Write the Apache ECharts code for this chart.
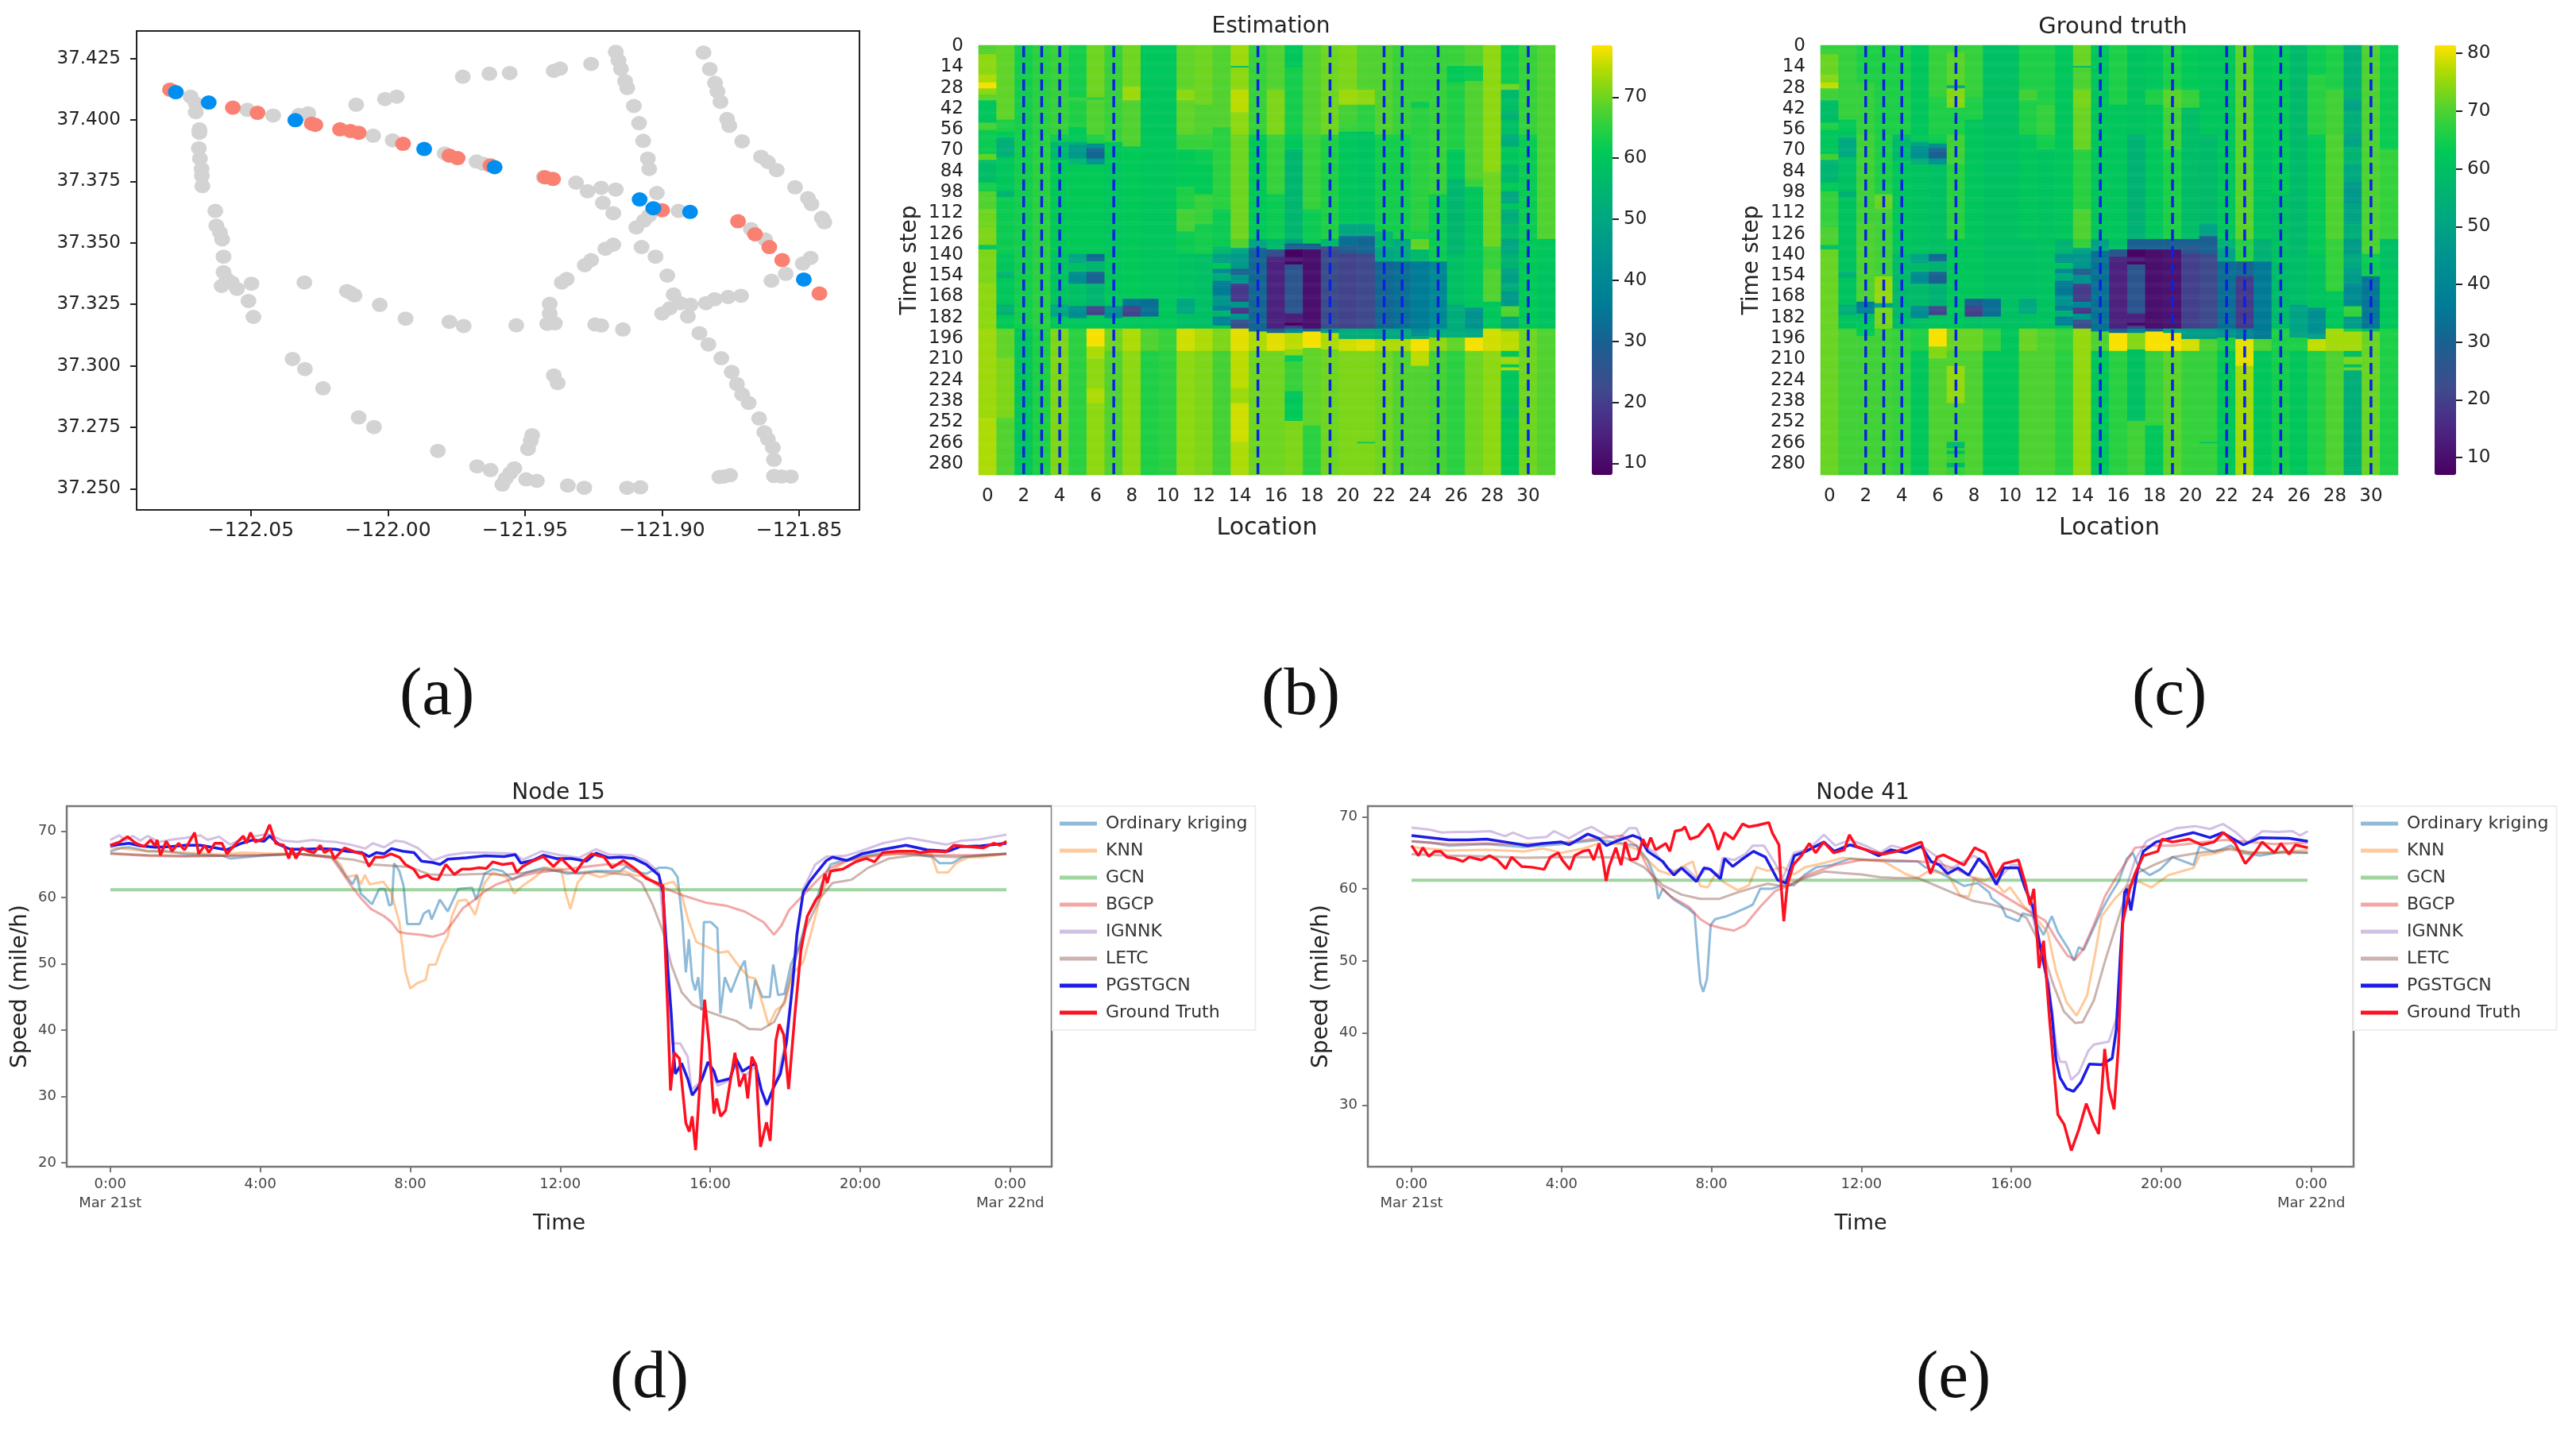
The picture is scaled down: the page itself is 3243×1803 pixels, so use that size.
<!DOCTYPE html>
<html>
<head>
<meta charset="utf-8">
<title>Traffic speed kriging</title>
<script src="https://cdn.jsdelivr.net/npm/echarts@6/dist/echarts.min.js"></script>
</head>
<body style="margin:0;padding:0;background:#fff;">
<div id="main" style="width:3243px;height:1803px;"></div>
<script>
// (a) sensor map, [lon, lat]
var grayPoints = [[-122.0795,37.4123],[-122.072,37.4095],[-122.0701,37.4067],[-122.0701,37.4032],[-122.0688,37.3962],[-122.0688,37.3948],[-122.069,37.3885],[-122.0686,37.3843],[-122.068,37.3801],[-122.0679,37.3773],[-122.0677,37.3731],[-122.063,37.363],[-122.0626,37.357],[-122.0613,37.3542],[-122.0605,37.3514],[-122.06,37.3444],[-122.06,37.3381],[-122.0588,37.3353],[-122.0607,37.3325],[-122.057,37.3339],[-122.0551,37.3313],[-122.0498,37.3334],[-122.0509,37.3264],[-122.0491,37.3199],[-122.0305,37.3339],[-122.015,37.3304],[-122.0137,37.3297],[-122.0122,37.3287],[-122.003,37.3248],[-121.9936,37.3192],[-121.9776,37.3179],[-121.9724,37.3162],[-121.9532,37.3165],[-121.9419,37.3171],[-121.9391,37.3173],[-121.941,37.3252],[-121.941,37.3213],[-121.9244,37.3168],[-121.9222,37.3164],[-121.9143,37.3148],[-122.0348,37.3028],[-122.0303,37.2987],[-122.0237,37.2909],[-122.0107,37.279],[-122.0051,37.2751],[-121.9818,37.2654],[-121.9675,37.2591],[-121.9626,37.2576],[-121.9583,37.2517],[-121.9571,37.2541],[-121.9554,37.2564],[-121.9539,37.2583],[-121.9496,37.2538],[-121.9457,37.2532],[-121.9344,37.2513],[-121.9284,37.2504],[-121.9128,37.2504],[-121.9079,37.2506],[-121.9489,37.2662],[-121.9479,37.2695],[-121.9474,37.2718],[-121.9395,37.2961],[-121.9381,37.293],[-121.8791,37.2548],[-121.8774,37.255],[-121.8752,37.2555],[-121.8592,37.2552],[-121.8564,37.255],[-121.853,37.255],[-121.8592,37.2618],[-121.8596,37.2667],[-121.8614,37.2702],[-121.8627,37.273],[-121.8646,37.2786],[-121.8684,37.2849],[-121.8708,37.2884],[-121.8727,37.2926],[-121.8746,37.2975],[-121.8784,37.3031],[-121.8831,37.3087],[-121.8864,37.3133],[-121.8906,37.3201],[-121.9,37.3213],[-121.8972,37.3234],[-121.8934,37.3255],[-121.8896,37.3248],[-121.884,37.3255],[-121.8808,37.3271],[-121.8759,37.328],[-121.8712,37.3285],[-121.8958,37.329],[-121.8981,37.3367],[-121.9024,37.3444],[-121.9075,37.3483],[-121.9178,37.3493],[-121.9207,37.3476],[-121.9259,37.343],[-121.9282,37.3409],[-121.9348,37.3353],[-121.9366,37.3339],[-121.9094,37.3563],[-121.9066,37.3591],[-121.9047,37.3612],[-121.9178,37.3621],[-121.9216,37.3663],[-121.9169,37.3717],[-121.9222,37.3724],[-121.9272,37.371],[-121.9314,37.3745],[-121.9019,37.3703],[-121.894,37.363],[-121.9047,37.3801],[-121.9052,37.3843],[-121.9069,37.3915],[-121.9084,37.3987],[-121.9103,37.4057],[-121.9127,37.413],[-121.9135,37.4158],[-121.915,37.4207],[-121.9159,37.4242],[-121.9169,37.4277],[-121.8849,37.4274],[-121.8826,37.4207],[-121.8807,37.4151],[-121.8798,37.4116],[-121.8787,37.4074],[-121.8763,37.4004],[-121.8755,37.3976],[-121.8708,37.3913],[-121.8639,37.385],[-121.8614,37.3829],[-121.8582,37.3796],[-121.8515,37.3726],[-121.8468,37.3682],[-121.8455,37.3658],[-121.8417,37.3602],[-121.8408,37.3584],[-121.8458,37.3439],[-121.8487,37.3416],[-121.8549,37.3374],[-121.8601,37.3346],[-121.8676,37.3556],[-121.8624,37.3514],[-121.9727,37.4176],[-121.963,37.4188],[-121.9556,37.4191],[-121.9395,37.42],[-121.9372,37.4209],[-121.9259,37.4228],[-122.0116,37.4062],[-122.0011,37.4085],[-121.9968,37.4095],[-122.0513,37.4041],[-122.0419,37.4018],[-122.0325,37.402],[-122.0291,37.4027],[-122.0054,37.3936],[-121.9983,37.3917],[-121.9793,37.3864],[-121.9677,37.3831],[-121.9652,37.3822],[-121.9432,37.3768]];
var redPoints = [[-122.0795,37.4123],[-122.0566,37.405],[-122.0476,37.4029],[-122.0278,37.3985],[-122.0265,37.398],[-122.0175,37.3962],[-122.0137,37.3955],[-122.0107,37.3948],[-121.9945,37.3903],[-121.9776,37.3855],[-121.9746,37.3845],[-121.9626,37.3815],[-121.9427,37.3767],[-121.9398,37.376],[-121.9,37.3633],[-121.8723,37.3588],[-121.8661,37.3535],[-121.8609,37.3483],[-121.8562,37.343],[-121.8426,37.3294]];
var bluePoints = [[-122.0774,37.4113],[-122.0654,37.4071],[-122.0338,37.3999],[-121.9868,37.3882],[-121.9611,37.3808],[-121.9082,37.3677],[-121.9032,37.3641],[-121.8898,37.3626],[-121.8483,37.3351]];
var mapLonTicks = [-122.05,-122,-121.95,-121.9,-121.85];
var mapLatTicks = [37.25,37.275,37.3,37.325,37.35,37.375,37.4,37.425];

// (b)(c) heatmaps: one list per location, each entry is [end row, speed]
var dashedLocations = [2,3,4,7,15,19,22,23,25,30];
var estimationColumns = [
 [[6,68],[20,72],[25,74],[29,78],[33,72],[37,69],[52,60],[57,67],[73,62],[77,69],[92,57],[98,63],[110,68],[122,70],[134,71],[137,60],[160,71],[190,72],[250,73],[288,74]],
 [[50,69],[58,64],[62,61],[75,53],[98,60],[102,55],[140,62],[152,60],[156,55],[174,60],[181,54],[190,61],[210,69],[250,71],[288,68]],
 [[190,63],[288,60]],
 [[190,65],[288,64]],
 [[60,66],[65,62],[77,56],[140,61],[174,59],[182,50],[190,60],[288,71]],
 [[35,63],[37,66],[55,64],[65,61],[67,52],[76,46],[80,55],[140,61],[146,50],[152,58],[160,42],[175,58],[183,42],[190,60],[288,65]],
 [[35,70],[37,65],[60,68],[66,64],[69,44],[76,31],[80,44],[140,61],[145,32],[152,55],[160,30],[175,55],[181,21],[190,60],[202,78],[210,74],[230,72],[240,74],[288,72]],
 [[65,66],[78,60],[175,60],[183,42],[190,60],[205,70],[288,68]],
 [[28,70],[37,73],[68,68],[170,61],[175,35],[182,21],[190,60],[205,74],[288,72]],
 [[170,60],[182,33],[190,60],[205,68],[288,64]],
 [[190,60],[205,66],[288,65]],
 [[30,69],[37,72],[60,69],[70,66],[95,61],[110,64],[125,67],[140,62],[170,59],[180,50],[190,58],[205,76],[288,72]],
 [[40,70],[60,68],[70,66],[80,62],[100,61],[120,66],[140,63],[190,58],[205,74],[288,71]],
 [[55,68],[110,65],[135,62],[140,56],[146,48],[150,60],[153,40],[158,52],[168,36],[175,45],[178,36],[182,55],[188,38],[190,60],[205,71],[288,67]],
 [[14,73],[15,58],[30,72],[45,75],[60,72],[130,70],[136,68],[140,50],[150,46],[154,30],[160,45],[172,19],[176,45],[180,18],[184,45],[190,24],[205,77],[230,75],[240,73],[266,76],[288,74]],
 [[60,66],[130,61],[136,50],[190,31],[192,33],[205,74],[288,70]],
 [[30,68],[60,71],[100,66],[130,62],[137,56],[142,24],[190,15],[193,30],[205,77],[288,70]],
 [[15,60],[60,63],[70,60],[130,55],[133,48],[137,30],[142,8.5],[145,13],[147,8.5],[180,26],[186,14],[188,8.5],[190,20],[193,40],[204,75],[208,72],[212,61],[232,66],[240,60],[252,61],[288,71]],
 [[60,68],[110,66],[133,62],[137,30],[190,11],[192,30],[203,78],[255,69],[288,65]],
 [[60,70],[130,64],[135,56],[190,23],[193,47],[204,74],[288,70]],
 [[30,71],[40,73],[52,67],[58,66],[120,60],[128,50],[135,33],[140,28],[190,21],[197,52],[205,76],[288,71]],
 [[30,68],[40,72],[58,65],[120,59],[128,50],[140,31],[190,22],[197,52],[205,77],[266,71],[267,61],[288,71]],
 [[60,68],[125,63],[136,55],[145,50],[190,31],[197,50],[205,74],[288,70]],
 [[60,66],[130,63],[145,52],[190,33],[197,50],[205,74],[288,68]],
 [[38,66],[42,62],[125,65],[130,63],[137,69],[145,56],[190,36],[195,42],[197,50],[205,78],[215,75],[288,68]],
 [[100,66],[145,62],[190,40],[196,52],[205,72],[288,67]],
 [[14,66],[25,61],[70,64],[90,60],[140,55],[174,58],[196,52],[205,69],[288,65]],
 [[14,68],[24,62],[90,68],[95,66],[176,60],[190,44],[196,50],[205,78],[288,70]],
 [[30,72],[85,72],[135,70],[150,66],[172,68],[190,60],[205,76],[288,72]],
 [[26,62],[30,70],[36,56],[44,58],[50,54],[60,58],[68,52],[80,60],[92,56],[98,61],[106,50],[110,60],[120,52],[130,56],[140,50],[150,54],[160,48],[165,52],[175,46],[182,68],[190,50],[192,71],[205,75],[209,60],[214,73],[216,60],[218,74],[240,60],[250,58],[288,60]],
 [[60,66],[130,62],[190,61],[288,70]],
 [[70,68],[130,68],[150,60],[190,59],[288,68]]
];
var truthColumns = [
 [[6,68],[20,72],[25,74],[29,78],[37,69],[52,59],[57,66],[73,62],[77,69],[92,56],[98,63],[122,68],[134,70],[137,60],[190,72],[288,72]],
 [[50,68],[58,63],[62,61],[75,52],[98,60],[102,55],[152,61],[156,55],[174,61],[181,54],[190,61],[288,69]],
 [[25,66],[60,68],[120,69],[172,70],[180,38],[186,60],[195,63],[288,69]],
 [[100,66],[110,72],[155,69],[173,75],[176,50],[190,73],[288,69]],
 [[60,66],[78,58],[140,62],[190,58],[288,68]],
 [[65,62],[68,50],[76,44],[80,54],[140,61],[146,50],[152,58],[160,42],[175,58],[183,42],[190,60],[205,66],[288,62]],
 [[35,68],[60,66],[66,64],[69,44],[76,30],[80,44],[140,60],[145,32],[152,55],[160,30],[175,55],[181,21],[190,61],[202,81],[210,74],[288,70]],
 [[5,68],[27,71],[29,52],[42,74],[60,66],[80,69],[130,67],[190,62],[205,72],[215,70],[240,75],[266,70],[270,58],[272,68],[274,58],[280,68],[283,58],[288,68]],
 [[35,68],[50,66],[170,62],[175,30],[182,20],[190,60],[205,72],[288,70]],
 [[170,60],[182,33],[190,60],[205,68],[288,62]],
 [[190,60],[288,62]],
 [[30,66],[37,69],[60,66],[130,62],[170,60],[180,52],[190,60],[205,72],[288,70]],
 [[40,66],[60,68],[70,65],[190,61],[205,70],[288,70]],
 [[130,62],[140,56],[146,46],[150,60],[153,40],[158,52],[168,36],[175,45],[178,36],[182,55],[188,38],[190,60],[205,68],[288,67]],
 [[14,72],[15,58],[30,70],[42,73],[70,72],[110,67],[130,70],[136,68],[140,50],[150,46],[154,28],[160,45],[172,19],[176,40],[180,18],[184,45],[190,23],[288,75]],
 [[130,62],[138,50],[190,34],[192,36],[205,70],[288,62]],
 [[40,66],[130,62],[137,60],[142,26],[190,14],[193,30],[205,81],[288,67]],
 [[60,61],[130,55],[137,30],[142,8],[145,13],[147,8],[180,26],[186,14],[188,8],[190,20],[193,40],[204,74],[252,60],[288,69]],
 [[30,62],[40,66],[130,62],[137,30],[190,10],[192,30],[205,81],[255,68],[288,62]],
 [[30,66],[42,71],[70,69],[130,66],[137,30],[190,11],[193,50],[205,81],[288,71]],
 [[30,63],[42,68],[130,59],[135,30],[140,26],[190,20],[197,48],[205,79],[288,68]],
 [[60,62],[120,58],[128,50],[140,30],[190,22],[197,48],[205,70],[266,68],[267,60],[288,68]],
 [[130,62],[136,56],[145,50],[190,33],[196,45],[205,66],[288,62]],
 [[130,71],[145,67],[155,31],[190,19],[197,40],[215,80],[288,76]],
 [[70,62],[130,61],[145,55],[197,36],[205,70],[288,62]],
 [[100,63],[145,60],[190,58],[205,66],[288,65]],
 [[140,58],[174,59],[196,50],[205,66],[288,62]],
 [[20,64],[60,67],[140,63],[176,61],[194,44],[197,50],[205,78],[288,66]],
 [[30,66],[60,69],[130,70],[165,68],[190,62],[205,76],[288,70]],
 [[30,54],[36,56],[44,50],[60,54],[68,50],[80,56],[92,52],[106,47],[120,50],[130,54],[140,48],[150,52],[160,48],[175,42],[182,68],[190,48],[192,65],[205,76],[209,60],[214,73],[216,60],[218,72],[288,54]],
 [[140,70],[155,64],[190,35],[192,60],[288,72]],
 [[70,64],[130,68],[150,60],[190,62],[288,66]]
];

// (d) Node 15, [hour, speed]
var d_kriging = [[0,67],[0.3,67.5],[0.5,67.6],[1,67],[1.5,67],[2,66.6],[3,66.3],[3.2,65.9],[4,66.3],[5,66.6],[5.9,66.2],[6.03,65.4],[6.25,63.6],[6.46,62],[6.57,63.4],[6.68,60.6],[6.98,59],[7.17,61.3],[7.33,61.3],[7.44,58.8],[7.51,59],[7.57,65.2],[7.71,64],[7.82,61.8],[7.92,56],[8.25,56],[8.36,57.6],[8.5,58.1],[8.57,56.7],[8.79,59.7],[9,57.9],[9.28,61.3],[9.65,61.5],[9.76,59.7],[9.98,63.6],[10.2,64.3],[10.46,64],[10.73,62.7],[11.1,63.8],[11.55,64.5],[12.19,63.6],[12.95,64],[13.6,64],[13.76,64.7],[13.96,64],[14.29,63.6],[14.63,64.5],[14.85,64.5],[14.98,64.3],[15.13,63.1],[15.26,56.3],[15.35,48.7],[15.43,53.7],[15.52,47.6],[15.6,46],[15.68,48],[15.77,43],[15.83,56.3],[16.02,56.3],[16.19,55.4],[16.27,42.5],[16.39,48],[16.55,45.7],[16.77,48.9],[16.92,50.5],[17.08,43.2],[17.2,47.6],[17.39,45],[17.59,45],[17.68,49.9],[17.81,45.3],[17.98,45.5],[18.15,49.9],[18.37,52.6],[18.59,57.2],[18.82,59.5],[18.98,62.2],[19.21,65],[19.54,65.6],[20.1,66.3],[20.77,66.8],[21.44,66.6],[21.94,66.1],[22.11,65.2],[22.45,65.2],[22.73,66.1],[23.34,66.4],[23.9,66.6]];
var d_knn = [[0,67.6],[1,67],[2,66.8],[3,66.5],[3.5,66.8],[4,66.7],[4.4,66.6],[5,66.6],[5.9,66.2],[6.14,65],[6.3,63.1],[6.57,63.4],[6.68,62],[6.79,63.4],[6.92,62],[7.28,62.4],[7.49,60.8],[7.71,56.3],[7.87,48.9],[8,46.3],[8.19,47.1],[8.41,47.6],[8.5,49.9],[8.68,49.9],[8.84,52.4],[9,54.2],[9.11,57.2],[9.28,59.5],[9.49,59.7],[9.73,57.4],[9.98,62.2],[10.2,63.8],[10.57,63.1],[10.77,60.6],[11,61.8],[11.33,63.1],[11.6,64.5],[12.03,64.3],[12.14,60.8],[12.27,58.3],[12.46,62.2],[12.68,63.8],[13.06,63.1],[13.38,63.6],[13.71,64],[13.96,63.4],[14.3,63.2],[14.63,61.8],[15.02,62.4],[15.24,60.4],[15.41,56.7],[15.63,53.3],[15.91,52.6],[16.25,51.7],[16.47,51.9],[16.8,49.4],[17.03,48],[17.2,47.8],[17.47,42.5],[17.56,40.7],[17.75,43],[17.98,43.9],[18.2,48.5],[18.48,50.3],[18.7,54.9],[18.93,59.9],[19.21,64],[19.65,65.6],[20.32,66.3],[21.22,66.8],[21.89,66.6],[22.06,63.8],[22.34,63.8],[22.56,65.2],[22.89,66.1],[23.23,66.1],[23.9,66.6]];
var gcnLine = [[0,61.2],[23.9,61.2]];
var d_bgcp = [[0,66.6],[1,66.3],[2,66.2],[3,66.3],[4,66.4],[5,66.6],[5.9,66],[6.1,64.5],[6.4,62],[6.7,59.8],[6.95,58.3],[7.3,57.2],[7.5,56.3],[7.7,54.8],[7.9,54.6],[8.3,54.4],[8.6,54.1],[8.9,54.6],[9.1,56],[9.4,58.4],[9.7,59.6],[10,61],[10.3,62],[10.8,63],[11.3,63.7],[12,64.2],[12.6,64.6],[13.2,65],[13.7,65],[14,64.3],[14.3,63],[14.63,61.8],[15.24,60.4],[15.91,59.2],[16.41,58.8],[16.92,57.9],[17.42,56.3],[17.7,54.4],[17.9,55.8],[18.1,58.1],[18.4,59.9],[18.87,62.7],[19.2,64.5],[19.6,65.5],[20.2,66.2],[21,66.6],[22,66.4],[23,66.4],[23.9,66.6]];
var d_ignnk = [[0,68.7],[0.1,69],[0.25,69.4],[0.4,68.6],[0.6,69.3],[0.8,68.6],[1,69.3],[1.3,68.4],[1.7,68.8],[2,69],[2.4,69.4],[2.6,68.7],[2.9,69.2],[3.2,68],[3.5,68.8],[3.8,69.2],[4.2,69.6],[4.6,68.6],[5,68.4],[5.4,68.7],[5.7,68.5],[6,68.4],[6.4,68],[6.8,67.4],[7,68.2],[7.3,67.6],[7.6,68.6],[7.85,68.4],[8.2,67.5],[8.6,65.6],[9,66.4],[9.5,66.8],[10,66.8],[10.5,66.7],[10.8,66.6],[11,65.7],[11.5,67],[12,66.4],[12.5,66],[12.95,67.3],[13.3,66.5],[13.9,66.4],[14.3,65.5],[14.63,63.8],[14.85,50],[15,38],[15.2,38],[15.4,36],[15.5,31],[15.7,32],[15.94,35],[16.2,31.6],[16.5,32.4],[16.7,35],[16.9,33],[17.2,34.5],[17.5,28.5],[17.8,33],[18,38],[18.2,47],[18.35,56],[18.5,61.5],[18.8,65],[19.1,66.2],[19.6,66.3],[20,67],[20.6,68.2],[21.3,69],[21.8,68.5],[22.3,68],[22.7,68.6],[23.2,68.8],[23.9,69.5]];
var d_letc = [[0,66.7],[1,66.4],[2,66.3],[3,66.3],[4,66.4],[5,66.6],[6,66],[6.5,65.7],[7,65],[7.5,64.8],[8,64.6],[8.5,63.5],[9,63.4],[10,63.6],[10.5,63.4],[11,63.7],[11.5,64.2],[12,64],[12.5,63.6],[13,63.9],[13.84,63.4],[14.18,62.2],[14.46,59],[14.74,54.9],[14.96,49.9],[15.24,45.7],[15.52,43.9],[15.85,43],[16.3,42.1],[16.69,41.4],[17.03,40.2],[17.36,40.1],[17.7,41.2],[17.98,44.4],[18.2,49.4],[18.54,55.3],[18.93,59.9],[19.26,62.2],[19.77,62.7],[20.21,64.5],[20.77,65.9],[21.44,66.4],[22.56,66.1],[23.34,66.4],[23.9,66.6]];
var d_pgstgcn = [[0,67.8],[0.2,68],[0.5,68.2],[0.8,67.8],[1.2,67.6],[1.6,67.7],[2,67.9],[2.4,67.9],[2.8,67.5],[3.1,67.2],[3.5,68.2],[3.8,68.7],[4.1,68.5],[4.25,69.3],[4.5,68],[4.8,67.3],[5.2,67.3],[5.6,67.4],[6,67.3],[6.3,67],[6.7,66.8],[6.9,66.2],[7.1,66.8],[7.3,66.6],[7.5,67.4],[7.8,67],[8.1,66.8],[8.3,65.5],[8.6,65.3],[8.8,65],[9,65.8],[9.5,66],[10,66.3],[10.5,66.2],[10.8,66.5],[10.95,65.2],[11.3,65.7],[11.55,66.4],[11.9,65.9],[12.3,65.9],[12.7,65.5],[12.95,66.7],[13.3,66],[13.62,66.1],[13.96,65.9],[14.29,65],[14.63,63.4],[14.74,60.8],[14.85,50.8],[14.96,42.5],[15.02,36.8],[15.07,33.4],[15.24,35],[15.41,32.5],[15.52,30.2],[15.69,31.5],[15.8,32.9],[15.94,35.2],[16.1,33.8],[16.19,32.2],[16.53,32.7],[16.69,35.7],[16.86,33.8],[17.2,35],[17.36,31],[17.51,28.8],[17.7,31.5],[17.87,33.4],[18.03,38],[18.2,47.1],[18.31,54.4],[18.48,60.8],[18.65,62.4],[18.87,64],[19.1,65.6],[19.26,66.1],[19.65,65.6],[20.04,66.6],[20.55,67.2],[21.22,67.9],[21.78,67.2],[22.34,67],[22.67,67.7],[23.23,67.8],[23.9,68.2]];
var d_truth = [[0,67.9],[0.25,68.4],[0.46,69.2],[0.68,68.2],[0.9,67.7],[1.08,68.7],[1.19,67.8],[1.25,68.7],[1.34,66.4],[1.49,68.5],[1.65,67],[1.82,68.2],[1.98,67.2],[2.09,68.2],[2.25,69.8],[2.36,66.6],[2.52,67.9],[2.63,66.8],[2.79,68.2],[2.98,68.2],[3.11,66.6],[3.31,67.9],[3.55,69.3],[3.63,68.2],[3.74,69.8],[3.87,68.4],[4.09,68.9],[4.25,71],[4.41,68.2],[4.63,67.9],[4.76,65.9],[4.84,67.5],[4.95,65.9],[5.11,67.5],[5.28,67],[5.44,66.8],[5.6,67.9],[5.71,66.8],[5.87,67.3],[5.98,65.9],[6.25,67.5],[6.57,66.8],[6.74,66.6],[6.9,64.7],[7.06,66.1],[7.28,66.1],[7.49,66.6],[7.71,66.1],[7.87,65],[8.09,64.3],[8.25,63],[8.46,63.4],[8.57,62.9],[8.74,62.7],[8.95,65],[9.17,63.5],[9.38,64.3],[9.6,64.3],[9.82,64.5],[10.03,64.4],[10.2,65.4],[10.46,65],[10.73,65.2],[10.84,63.8],[11,64.7],[11.22,65.4],[11.55,66.2],[11.82,64.7],[12.03,65.9],[12.19,65],[12.41,63.8],[12.63,65.6],[12.84,66.6],[13.17,66.1],[13.38,64.5],[13.68,65.6],[13.96,64.5],[14.29,62.9],[14.74,61.8],[14.79,53.5],[14.87,42.5],[14.94,30.9],[15.04,36.6],[15.18,35.7],[15.35,26],[15.44,24.7],[15.52,27],[15.61,21.9],[15.74,33.4],[15.85,44.6],[15.97,38],[16.1,27.4],[16.17,29.7],[16.28,27],[16.41,27.9],[16.66,36.6],[16.78,31.5],[16.92,33.4],[17,29.7],[17.11,36],[17.22,34.7],[17.34,22.4],[17.5,26.1],[17.6,23.3],[17.75,38.4],[17.84,40.9],[17.96,39.3],[18.09,31.1],[18.26,42.5],[18.42,52.1],[18.59,57.2],[18.82,59.7],[18.93,60.4],[19.06,63.6],[19.12,62.2],[19.21,64],[19.54,64.3],[19.88,65.4],[20.16,65.9],[20.38,65.4],[20.6,66.8],[21,67],[21.44,67],[21.6,66.8],[21.89,67],[22.28,66.9],[22.5,67.9],[22.89,67.7],[23.28,67.5],[23.56,68.2],[23.73,67.9],[23.9,68.5]];

// (e) Node 41, [hour, speed]
var e_kriging = [[0,66.6],[0.5,66.4],[1,66],[2,66.2],[3,65.8],[4,66.2],[5,66.8],[6,66],[6.3,64],[6.5,61.5],[6.58,58.6],[6.7,60],[7,58.5],[7.4,57.2],[7.55,56.5],[7.65,50],[7.7,47],[7.78,45.7],[7.88,47.5],[7.98,55],[8.1,55.8],[8.4,56.2],[8.6,56.6],[8.9,57.3],[9.1,57.8],[9.3,60],[9.6,60],[9.9,60.5],[10.2,60.5],[10.5,62],[10.8,63],[11.2,63.3],[11.7,64.2],[12.2,64],[12.8,63.8],[13.5,63.8],[13.7,63],[14,62.5],[14.74,60.4],[15.1,60.8],[15.41,59.5],[15.47,58.7],[15.74,57.6],[15.86,56.2],[16.19,55.5],[16.3,56.6],[16.58,56.2],[16.86,53.6],[17.08,56.2],[17.24,54],[17.52,51.7],[17.67,50],[17.8,51.9],[17.93,51.5],[18.19,54.5],[18.41,57],[18.63,59.1],[18.86,61],[19.08,64.2],[19.24,65],[19.41,62.9],[19.69,61.9],[19.97,62.7],[20.3,64.4],[20.86,63.3],[21.02,65.9],[21.41,65.1],[21.86,66],[22.13,65],[22.63,64.6],[23.3,65.2],[23.91,65]];
var e_knn = [[0,65.8],[1,65.3],[2,65.4],[3,65.2],[3.5,65.6],[4,65],[4.6,65.6],[5,66.3],[5.6,66.2],[6,65.5],[6.3,64],[6.6,62.5],[6.9,62],[7.2,63],[7.5,63.8],[7.7,60.4],[7.9,60.2],[8.1,62],[8.3,61],[8.7,59.8],[9,60.5],[9.2,63],[9.5,62.5],[9.9,63],[10.2,62],[10.5,63],[11,63.6],[11.5,64.3],[12,64],[12.6,63.8],[13.2,62],[13.5,61.5],[13.8,62.5],[14,62.3],[14.3,62.1],[14.63,59.1],[14.86,58.9],[15.02,61.6],[15.3,61.2],[15.47,61.6],[15.8,59.5],[15.97,60.2],[16.3,57.8],[16.69,55.7],[16.97,54],[17.19,48.6],[17.47,44.3],[17.74,42.4],[18.02,45.2],[18.24,51.1],[18.41,56.2],[18.74,58.5],[19.08,60.4],[19.41,61],[19.74,60.2],[20.19,61.9],[20.86,62.9],[21.02,64.6],[21.52,65],[21.86,65.7],[22.3,65],[22.86,65],[23.41,65.2],[23.91,65.4]];
var e_bgcp = [[0,66.6],[1,66.2],[2,66.3],[3,66.2],[4,66.4],[5,67],[5.6,67.4],[6,66],[6.5,61],[6.9,59],[7.4,57.5],[7.7,55.8],[7.95,55],[8.3,54.5],[8.6,54.2],[8.9,55],[9.3,57.5],[9.7,59.7],[10,60.3],[10.4,61.5],[10.8,62.4],[11.3,63.3],[12,64],[12.7,64],[13.5,63.8],[14,63.6],[14.5,62.8],[15,61.5],[15.5,60],[16,58.4],[16.5,56.8],[16.9,55.6],[17.2,53],[17.5,50.7],[17.7,50.2],[17.9,51.5],[18.2,55],[18.5,59],[18.8,61.6],[19.1,64],[19.3,65.7],[19.8,66],[20.3,66],[21,66.4],[21.7,66.8],[22.3,66.5],[23,66.2],[23.91,66.4]];
var e_ignnk = [[0,68.5],[0.5,68.2],[0.8,67.8],[1.2,67.9],[1.6,67.9],[2.1,68],[2.5,67.3],[2.7,67.8],[3.1,67],[3.6,67.2],[3.8,68],[4.2,67],[4.6,68.2],[4.8,68.6],[5.2,67.4],[5.5,66.8],[5.8,68.4],[6,68.4],[6.2,66],[6.5,65],[6.8,63],[7,62.4],[7.3,63],[7.6,61.4],[7.9,63],[8.2,61.8],[8.3,64.3],[8.6,64],[8.9,64.8],[9.1,66],[9.4,66],[9.7,63.5],[9.9,61.5],[10.2,65],[10.6,65.5],[11,67.5],[11.3,66],[11.7,66.8],[12.1,66],[12.5,65],[12.8,66],[13.2,65.5],[13.6,66],[14,64.5],[14.3,62.6],[14.6,63.4],[15,64.6],[15.4,63.2],[15.6,61],[16,63.3],[16.2,63.3],[16.4,60.5],[16.7,53],[17,47],[17.2,38],[17.3,36],[17.45,36],[17.6,33.5],[17.8,34.5],[18.05,37.5],[18.2,38.4],[18.6,38.8],[18.8,42],[19.05,60],[19.3,64],[19.6,66.6],[20,67.6],[20.4,68.4],[20.9,68.7],[21.3,68.3],[21.65,69],[22,67.8],[22.3,66.4],[22.7,68],[23.1,67.9],[23.5,68],[23.7,67.4],[23.91,68]];
var e_letc = [[0,64.8],[1,64.6],[2,64.5],[3,64.3],[4,64.4],[5,64.4],[5.7,64.3],[6.2,63],[6.7,60.5],[7.2,59.2],[7.7,58.6],[8.2,58.6],[8.7,59.5],[9.2,60.3],[9.5,60.7],[10,60.3],[10.5,61.5],[11,62.4],[11.5,62.2],[12,62],[12.5,61.6],[13,61.5],[13.5,61.5],[14,60.4],[14.5,59.3],[15,58.3],[15.5,57.8],[16,57],[16.4,56],[16.8,52],[17.1,47],[17.4,43],[17.7,41.4],[17.9,41.5],[18.2,44.5],[18.5,50],[18.8,55],[19.1,60],[19.4,62.3],[19.8,63.3],[20.3,64.4],[21,65],[21.8,65.5],[22.5,65],[23.91,65]];
var e_pgstgcn = [[0,67.4],[0.5,67.1],[1,66.8],[1.5,66.8],[2,66.9],[2.5,66.5],[3.1,66],[3.5,66.3],[4,66.5],[4.2,66.1],[4.7,67.6],[5,67],[5.2,66],[5.5,66.7],[5.9,67.4],[6.1,67],[6.3,65.2],[6.7,63.8],[6.83,62.9],[7,61.9],[7.2,62.9],[7.6,61],[7.8,62.9],[7.97,62.7],[8.24,61.4],[8.35,64.2],[8.57,63.1],[8.79,64],[9.12,65.2],[9.44,64.4],[9.77,61.2],[9.99,60.8],[10.21,64.6],[10.52,65.2],[11,66.5],[11.27,65.2],[11.7,66.1],[12.13,65.4],[12.46,64.6],[12.78,65.4],[13.2,65],[13.6,65.9],[13.86,63.8],[14.08,63.3],[14.3,62.1],[14.58,62.9],[14.86,61.9],[15.13,64.2],[15.36,62.9],[15.6,60.6],[15.8,62.9],[16.19,62.9],[16.36,60.2],[16.58,57.4],[16.74,52.8],[16.97,46.9],[17.08,42.7],[17.19,36.3],[17.3,33.8],[17.47,32.3],[17.66,31.9],[17.86,33.2],[18.08,35.7],[18.41,35.6],[18.69,36.5],[18.8,40.5],[18.91,51],[19.02,59.5],[19.08,60],[19.19,57],[19.36,62.5],[19.52,65.2],[19.86,66.5],[20.3,67.1],[20.86,67.8],[21.3,67.1],[21.63,67.8],[22.19,66.1],[22.63,67.1],[23.41,67],[23.91,66.6]];
var e_truth = [[0,66],[0.18,64.6],[0.3,65.7],[0.46,64.5],[0.62,65.2],[0.78,65.2],[0.94,64.4],[1.16,64.2],[1.37,63.8],[1.54,64.4],[1.86,64],[2.08,64.6],[2.29,64],[2.51,62.8],[2.67,64.4],[2.94,63.1],[3.21,63],[3.54,62.7],[3.7,64.4],[3.91,65],[4.02,64],[4.22,62.7],[4.35,64.6],[4.56,65.2],[4.73,65.4],[4.86,64],[5,66.3],[5.1,64.2],[5.19,61.1],[5.27,63.1],[5.45,65.7],[5.59,63.3],[5.7,66.5],[5.84,64],[6.02,64.2],[6.17,66.9],[6.28,65.7],[6.38,67.1],[6.51,65.4],[6.78,66.3],[6.89,65.2],[7.03,68],[7.21,68.2],[7.29,68.6],[7.43,66.9],[7.65,67.3],[7.92,69],[8.04,67.8],[8.18,65.4],[8.35,67.8],[8.58,66.9],[8.83,69],[9,68.6],[9.21,68.8],[9.53,69.2],[9.62,67.8],[9.8,66.1],[9.86,60.4],[9.93,55.5],[10.02,60.4],[10.18,63.3],[10.4,64.6],[10.61,66.3],[10.78,65],[10.99,66.5],[11.26,65],[11.54,65.4],[11.68,67.5],[11.86,65.9],[12.24,65.2],[12.57,64.8],[12.95,65.2],[13.6,66.5],[13.84,62.1],[14.02,64.4],[14.19,64.7],[14.47,64],[14.74,63.3],[15.02,65.7],[15.3,65],[15.58,61.6],[15.8,63.5],[16.19,64],[16.36,61],[16.5,57.8],[16.6,60],[16.74,49],[16.86,52.8],[17.02,41.8],[17.24,28.7],[17.41,27.3],[17.6,23.7],[17.8,26.6],[18,30.2],[18.19,27.5],[18.33,26],[18.49,37.8],[18.6,32.3],[18.74,29.4],[18.86,38.4],[18.97,55.3],[19.16,60],[19.3,62.1],[19.52,64.6],[19.91,65.2],[20.02,66.9],[20.3,66.5],[20.74,66.9],[21.08,66.1],[21.41,66.5],[21.66,67.8],[21.97,66.3],[22.24,63.5],[22.52,65.2],[22.69,66.5],[23.02,65],[23.19,66.3],[23.41,64.8],[23.58,66.1],[23.91,65.7]];

var timeTickHours = [0,4,8,12,16,20,24];
var timeTickLabels = ['0:00\nMar 21st','4:00','8:00','12:00','16:00','20:00','0:00\nMar 22nd'];
var methodNames = ['Ordinary kriging','KNN','GCN','BGCP','IGNNK','LETC','PGSTGCN','Ground Truth'];
var methodColors = ['rgba(31,119,180,0.5)','rgba(255,127,14,0.42)','rgba(44,160,44,0.45)','rgba(226,60,60,0.45)','rgba(148,103,189,0.42)','rgba(140,86,75,0.45)','#1c1ce6','#ff1020'];
var methodWidths = [3,3,4,3,3,3,3.5,3.5];
var d_lines = [d_kriging,d_knn,gcnLine,d_bgcp,d_ignnk,d_letc,d_pgstgcn,d_truth];
var e_lines = [e_kriging,e_knn,gcnLine,e_bgcp,e_ignnk,e_letc,e_pgstgcn,e_truth];

var heatColors = ['#48005f','#4a1270','#4b2480','#47368a','#3f4a8c','#2e548e','#1d5e90','#0b6e94','#007d96','#008794','#009190','#009c88','#00a880','#00b273','#00bd66','#00c958','#22d044','#50d230','#84d714','#bcdc00','#ffe200'];

var font = 'DejaVu Sans';
var myChart = echarts.init(document.getElementById('main'));

function range(n){
    var a = [];
    for (var i = 0; i < n; i++) a.push(String(i));
    return a;
}
function decodeColumns(cols){
    var out = [];
    cols.forEach(function(col, x){
        var row = 0;
        col.forEach(function(seg){
            for (; row < seg[0]; row++) out.push([x, row, seg[1]]);
        });
    });
    return out;
}

var grids = [
    {left:172, top:39, width:910, height:603, show:true, borderColor:'#222', borderWidth:2, backgroundColor:'#fff'},
    {left:1232, top:57, width:726, height:541},
    {left:2004, top:57, width:26, height:541},
    {left:2292, top:57, width:727, height:541},
    {left:3065, top:57, width:27, height:541},
    {left:84, top:1015, width:1240, height:454, show:true, borderColor:'#777', borderWidth:2.5},
    {left:1722, top:1015, width:1241, height:454, show:true, borderColor:'#777', borderWidth:2.5}
];

function mapAxis(idx, ticks, digits, min, max, size, margin){
    return {
        type:'value', gridIndex:idx, min:min, max:max, splitLine:{show:false},
        axisLine:{show:false, onZero:false},
        axisTick:{show:true, length:8, customValues:ticks, lineStyle:{color:'#222', width:2}},
        axisLabel:{color:'#222', fontFamily:font, fontSize:size, margin:margin, customValues:ticks,
            formatter:function(v){ return v.toFixed(digits).replace('-','\u2212'); }}
    };
}
function heatAxisX(idx){
    return {
        type:'category', gridIndex:idx, data:range(32), name:'Location', nameLocation:'middle', nameGap:52,
        nameTextStyle:{color:'#222', fontFamily:font, fontSize:30},
        axisLine:{show:false}, splitLine:{show:false},
        axisTick:{alignWithLabel:true, interval:1, length:8, lineStyle:{color:'#222', width:2}},
        axisLabel:{interval:1, color:'#222', fontFamily:font, fontSize:23, margin:16}
    };
}
function heatAxisY(idx){
    return {
        type:'category', gridIndex:idx, data:range(288), inverse:true, name:'Time step', nameLocation:'middle', nameGap:72,
        nameTextStyle:{color:'#222', fontFamily:font, fontSize:28},
        axisLine:{show:false}, splitLine:{show:false},
        axisTick:{alignWithLabel:true, interval:13, length:8, lineStyle:{color:'#222', width:2}},
        axisLabel:{interval:13, color:'#222', fontFamily:font, fontSize:23, margin:19}
    };
}
function barAxisX(idx){
    return {type:'value', gridIndex:idx, min:0, max:1, show:false};
}
function barAxisY(idx, min, max, ticks){
    return {
        type:'value', gridIndex:idx, position:'right', min:min, max:max, splitLine:{show:false}, axisLine:{show:false, onZero:false},
        axisTick:{show:true, length:8, customValues:ticks, lineStyle:{color:'#222', width:2}},
        axisLabel:{color:'#222', fontFamily:font, fontSize:23, margin:14, customValues:ticks}
    };
}
function timeAxis(idx, min, max){
    return {
        type:'value', gridIndex:idx, min:min, max:max, name:'Time', nameLocation:'middle', nameGap:55,
        nameTextStyle:{color:'#222', fontFamily:font, fontSize:27},
        splitLine:{show:false}, axisLine:{show:false, onZero:false},
        axisTick:{show:true, length:7, customValues:timeTickHours, lineStyle:{color:'#777', width:2}},
        axisLabel:{color:'#444', fontFamily:font, fontSize:18, lineHeight:24, margin:10, customValues:timeTickHours,
            formatter:function(v){ return timeTickLabels[timeTickHours.indexOf(v)]; }}
    };
}
function speedAxis(idx, min, max, ticks){
    return {
        type:'value', gridIndex:idx, min:min, max:max, name:'Speed (mile/h)', nameLocation:'middle', nameGap:44,
        nameTextStyle:{color:'#222', fontFamily:font, fontSize:28},
        splitLine:{show:false}, axisLine:{show:false, onZero:false},
        axisTick:{show:true, length:7, customValues:ticks, lineStyle:{color:'#777', width:2}},
        axisLabel:{color:'#444', fontFamily:font, fontSize:18, margin:13, customValues:ticks}
    };
}

var series = [
    {type:'scatter', xAxisIndex:0, yAxisIndex:0, data:grayPoints, symbolSize:[20,18], itemStyle:{color:'#d3d3d3', opacity:1}},
    {type:'scatter', xAxisIndex:0, yAxisIndex:0, data:redPoints, symbolSize:[20,18], itemStyle:{color:'#fa8072', opacity:1}},
    {type:'scatter', xAxisIndex:0, yAxisIndex:0, data:bluePoints, symbolSize:[20,18], itemStyle:{color:'#008ff0', opacity:1}},
    {type:'heatmap', xAxisIndex:1, yAxisIndex:1, data:decodeColumns(estimationColumns), progressive:0},
    {type:'heatmap', xAxisIndex:3, yAxisIndex:3, data:decodeColumns(truthColumns), progressive:0}
];
[1,3].forEach(function(axisIdx){
    dashedLocations.forEach(function(loc){
        series.push({
            type:'line', xAxisIndex:axisIdx, yAxisIndex:axisIdx, symbol:'none', silent:true, z:5,
            data:[[String(loc),'0'],[String(loc),'287']],
            lineStyle:{color:'#0b22e0', width:3.5, type:[14,7]}
        });
    });
});
function addLines(lines, axisIdx){
    lines.forEach(function(pts, i){
        series.push({
            name:methodNames[i], type:'line', xAxisIndex:axisIdx, yAxisIndex:axisIdx, symbol:'none', data:pts,
            color:methodColors[i], lineStyle:{color:methodColors[i], width:methodWidths[i]}
        });
    });
}
addLines(d_lines, 5);
addLines(e_lines, 6);

function legendAt(left){
    return {
        show:true, orient:'vertical', left:left, top:1015, data:methodNames, selectedMode:false,
        icon:'rect', itemWidth:47, itemHeight:5, itemGap:12, padding:[11,10,11,9],
        backgroundColor:'#fff', borderColor:'#eeeeee', borderWidth:2,
        textStyle:{color:'#333', fontFamily:font, fontSize:22, lineHeight:22, padding:[0,0,0,6]}
    };
}
function captionText(text, x, y){
    return {type:'text', left:x, top:y, style:{text:text, fill:'#111', font:'85px "Liberation Serif"'}};
}
function titleText(text, x, y, size){
    return {text:text, left:x, top:y, textAlign:'center', textStyle:{color:'#222', fontFamily:font, fontSize:size, fontWeight:'normal'}};
}

option = {
    animation:false,
    backgroundColor:'#fff',
    title:[
        titleText('Estimation',1595,15,28),
        titleText('Ground truth',2655,15,29),
        titleText('Node 15',698,980,28),
        titleText('Node 41',2340,980,28)
    ],
    grid:grids,
    xAxis:[
        mapAxis(0, mapLonTicks, 2, -122.0917, -121.828, 25, 14),
        heatAxisX(1), barAxisX(2), heatAxisX(3), barAxisX(4),
        timeAxis(5, -1.161, 25.106), timeAxis(6, -1.167, 25.13)
    ],
    yAxis:[
        mapAxis(0, mapLatTicks, 3, 37.2414, 37.4362, 23, 20),
        heatAxisY(1), barAxisY(2, 8.1, 78.5, [10,20,30,40,50,60,70]),
        heatAxisY(3), barAxisY(4, 7, 81.4, [10,20,30,40,50,60,70,80]),
        speedAxis(5, 19.4, 73.8, [20,30,40,50,60,70]),
        speedAxis(6, 21.45, 71.47, [30,40,50,60,70])
    ],
    visualMap:[
        {type:'continuous', seriesIndex:3, min:8.1, max:78.5, left:2004, top:57, itemWidth:26, itemHeight:541, padding:0, text:null, showLabel:false, calculable:false, inRange:{color:heatColors}},
        {type:'continuous', seriesIndex:4, min:7, max:81.4, left:3065, top:57, itemWidth:27, itemHeight:541, padding:0, text:null, showLabel:false, calculable:false, inRange:{color:heatColors}}
    ],
    legend:[legendAt(1325), legendAt(2963)],
    graphic:[
        captionText('(a)',503,834),
        captionText('(b)',1588,834),
        captionText('(c)',2684,834),
        captionText('(d)',768,1694),
        captionText('(e)',2412,1694)
    ],
    series:series
};
myChart.setOption(option);
</script>
</body>
</html>
